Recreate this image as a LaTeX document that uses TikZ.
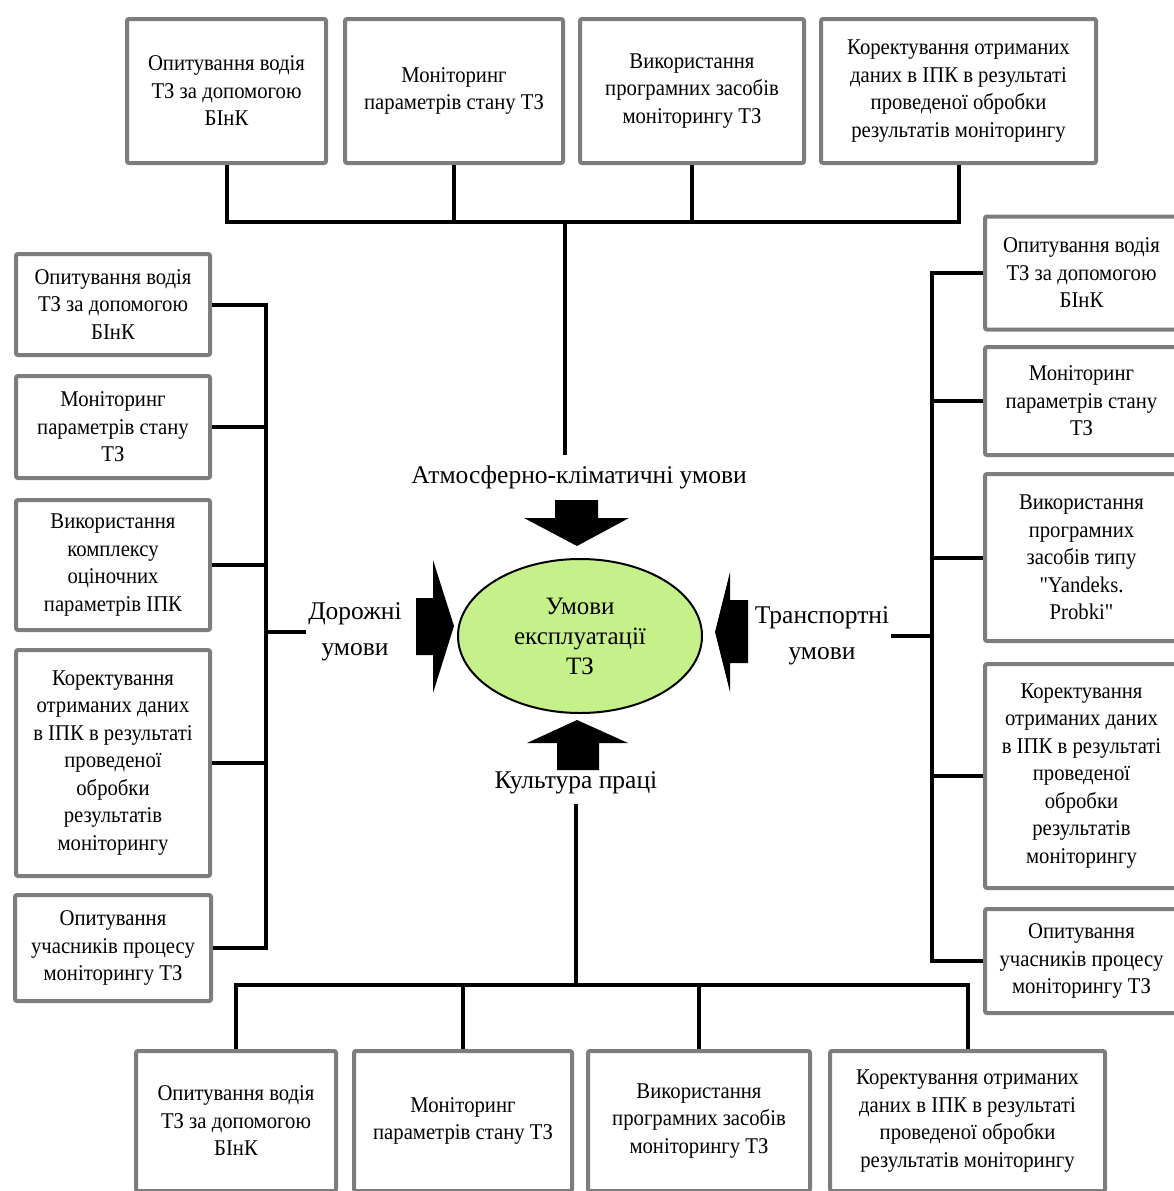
\documentclass[tikz,border=0pt]{standalone}
\usepackage{fontspec}
\setmainfont{Liberation Serif}
\newfontfamily\boxfont{Liberation Serif}[FakeStretch=0.92]
\usetikzlibrary{shapes.geometric}
\definecolor{boxgray}{RGB}{125,125,125}
\definecolor{ovalgreen}{RGB}{198,240,138}
\tikzset{
  box/.style={draw=boxgray, line width=4pt, fill=white, rounded corners=2pt,
    align=center, inner sep=1pt, font=\boxfont\fontsize{22.5}{27.5}\selectfont},
  bus/.style={line width=4pt},
  lbl/.style={align=center, inner sep=2pt, font=\fontsize{25.5}{36}\selectfont},
}
\begin{document}
\begin{tikzpicture}[x=1pt,y=-1pt]
\useasboundingbox (0,0) rectangle (1173,1191);

% top row
\node (t1) [box, minimum width=199, minimum height=144] at (226.5,91) {Опитування водія\\ТЗ за допомогою\\БІнК};
\node (t2) [box, minimum width=218, minimum height=144] at (454,91) {Моніторинг\\параметрів стану ТЗ};
\node (t3) [box, minimum width=224, minimum height=144] at (692,91) {Використання\\програмних засобів\\моніторингу ТЗ};
\node (t4) [box, minimum width=275, minimum height=144] at (958.5,91) {Коректування отриманих\\даних в ІПК в результаті\\проведеної обробки\\результатів моніторингу};

% left column
\node (l1) [box, minimum width=194, minimum height=101] at (113,304.5) {Опитування водія\\ТЗ за допомогою\\БІнК};
\node (l2) [box, minimum width=194, minimum height=102] at (113,427) {Моніторинг\\параметрів стану\\ТЗ};
\node (l3) [box, minimum width=194, minimum height=130] at (113,565) {Використання\\комплексу\\оціночних\\параметрів ІПК};
\node (l4) [box, minimum width=194, minimum height=226] at (113,763) {Коректування\\отриманих даних\\в ІПК в результаті\\проведеної\\обробки\\результатів\\моніторингу};
\node (l5) [box, minimum width=196, minimum height=106] at (113,948) {Опитування\\учасників процесу\\моніторингу ТЗ};

% right column
\node (r1) [box, minimum width=193, minimum height=113] at (1081.5,273) {Опитування водія\\ТЗ за допомогою\\БІнК};
\node (r2) [box, minimum width=193, minimum height=108] at (1081.5,401) {Моніторинг\\параметрів стану\\ТЗ};
\node (r3) [box, minimum width=193, minimum height=167] at (1081.5,557.5) {Використання\\програмних\\засобів типу\\\symbol{34}Yandeks.\\Probki\symbol{34}};
\node (r4) [box, minimum width=193, minimum height=224] at (1081.5,776) {Коректування\\отриманих даних\\в ІПК в результаті\\проведеної\\обробки\\результатів\\моніторингу};
\node (r5) [box, minimum width=193, minimum height=104] at (1081.5,961) {Опитування\\учасників процесу\\моніторингу ТЗ};

% bottom row
\node (b1) [box, minimum width=200, minimum height=140] at (236,1121) {Опитування водія\\ТЗ за допомогою\\БІнК};
\node (b2) [box, minimum width=218, minimum height=140] at (463,1121) {Моніторинг\\параметрів стану ТЗ};
\node (b3) [box, minimum width=222, minimum height=140] at (699,1121) {Використання\\програмних засобів\\моніторингу ТЗ};
\node (b4) [box, minimum width=275, minimum height=140] at (967.5,1121) {Коректування отриманих\\даних в ІПК в результаті\\проведеної обробки\\результатів моніторингу};

% centre
\node (core) [ellipse, draw, line width=2pt, fill=ovalgreen, minimum width=244, minimum height=154,
  align=center, font=\fontsize{25}{30}\selectfont] at (580,636) {Умови\\експлуатації\\ТЗ};
\node (atm) [lbl] at (579,477) {Атмосферно-кліматичні умови};
\node (road) [lbl] at (355,632) {Дорожні\\умови};
\node (trans) [lbl] at (822,636) {Транспортні\\умови};
\node (work) [lbl] at (576,783) {Культура праці};

% block arrows
\fill (555,500) -- (598,500) -- (598,518) -- (629,518) -- (577,546) -- (524,518) -- (555,518) -- cycle;
\fill (557,770) -- (599,770) -- (599,743) -- (628,743) -- (577,720) -- (527,743) -- (557,743) -- cycle;
\fill (416,598) -- (433,598) -- (433,560) -- (454,626) -- (433,693) -- (433,655) -- (416,655) -- cycle;
\fill (748,600) -- (730,600) -- (730,572) -- (715,632) -- (730,692) -- (730,663) -- (748,663) -- cycle;

% connectors
\coordinate (topbus) at (565,222);
\draw [bus] (t1.south) -- (t1.south |- topbus) -- (t4.south |- topbus) -- (t4.south);
\foreach \n in {t2,t3} \draw [bus] (\n.south) -- (\n.south |- topbus);
\draw [bus, shorten >=8pt] (topbus) -- (topbus |- atm.north);

\coordinate (botbus) at (576,985);
\draw [bus] (b1.north) -- (b1.north |- botbus) -- (b4.north |- botbus) -- (b4.north);
\foreach \n in {b2,b3} \draw [bus] (\n.north) -- (\n.north |- botbus);
\draw [bus, shorten <=8pt] (work.south) -- (botbus);

\coordinate (lbus) at (266,0);
\draw [bus] (l1.east) -- (l1.east -| lbus) -- (l5.east -| lbus) -- (l5.east);
\foreach \n in {l2,l3,l4} \draw [bus] (\n.east) -- (\n.east -| lbus);
\draw [bus] (road.west -| lbus) -- (road.west);

\coordinate (rbus) at (932,0);
\draw [bus] (r1.west) -- (r1.west -| rbus) -- (r5.west -| rbus) -- (r5.west);
\foreach \n in {r2,r3,r4} \draw [bus] (\n.west) -- (\n.west -| rbus);
\draw [bus] (trans.east) -- (trans.east -| rbus);
\end{tikzpicture}
\end{document}
